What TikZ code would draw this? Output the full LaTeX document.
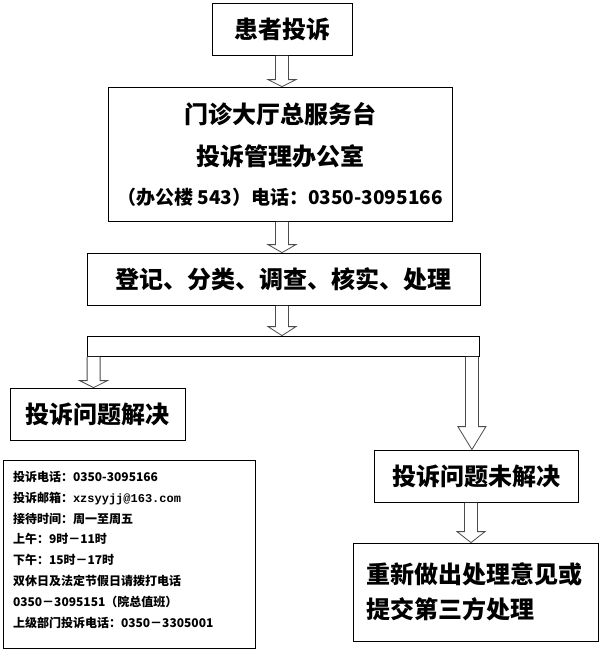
\documentclass[tikz,border=0pt]{standalone}
\usepackage{fontspec}
\setmainfont{Noto Sans CJK SC}
\setmonofont{Liberation Mono}
\usetikzlibrary{calc}

% 空心箭头: 起点, 终点, 箭头长度
\newcommand{\hollowarrow}[3]{%
    \draw[harrow] let \p1=(#1), \p2=(#2) in
        (\x1-6.5pt,\y1-0.5pt) -- (\x1-6.5pt,\y2+#3) -- (\x1-14pt,\y2+#3) -- (\x1,\y2)
        -- (\x1+14pt,\y2+#3) -- (\x1+6.5pt,\y2+#3) -- (\x1+6.5pt,\y1-0.5pt);
}

\begin{document}
\begin{tikzpicture}[x=1pt, y=-1pt]
        \tikzstyle{box}=[draw=black, line width=0.8pt, inner sep=0pt, font=\bfseries\fontsize{24}{42}\selectfont]
        \tikzstyle{bar}=[draw=black, line width=0.8pt, inner sep=0pt]
        \tikzstyle{note}=[draw=black, line width=0.8pt, inner sep=0pt, align=left, font=\bfseries\fontsize{12}{20.8}\selectfont]
        \tikzstyle{harrow}=[draw=black!70, fill=white, line width=0.8pt, line join=miter]
        
        \useasboundingbox (0,0) rectangle (601,651);
        
        % 画节点
        \node[box, minimum width=140pt, minimum height=52pt] (ts) at (282,29) {患者投诉};
        \node[box, minimum width=344pt, minimum height=134pt, align=center] (desk) at (280,154)
            {门诊大厅总服务台\\投诉管理办公室\\[-3pt]{\fontsize{19}{19}\selectfont （办公楼 543）电话：0350-3095166}};
        \node[box, minimum width=393pt, minimum height=52pt] (reg) at (283.5,279) {登记、分类、调查、核实、处理};
        \node[bar, minimum width=392pt, minimum height=20pt] (fork) at (283,346) {};
        \node[box, minimum width=175pt, minimum height=52pt] (ok) at (97.5,414) {投诉问题解决};
        \node[note, minimum width=252pt, text width=232pt, text height=21.5pt, text depth=166.5pt] (info) at (129,554)
            {投诉电话：0350-3095166\\
             投诉邮箱：{\ttfamily xzsyyjj@163.com}\\
             接待时间：周一至周五\\
             上午：9时－11时\\
             下午：15时－17时\\
             双休日及法定节假日请拨打电话\\
             0350－3095151（院总值班）\\
             上级部门投诉电话：0350－3305001};
        \node[box, minimum width=204pt, minimum height=52pt] (unres) at (476,476) {投诉问题未解决};
        \node[box, minimum width=245pt, minimum height=98pt, text width=219pt, align=left,
              font=\bfseries\fontsize{24}{35}\selectfont] (redo) at (475.5,592)
            {重新做出处理意见或\\提交第三方处理};
        
        % 画箭头
        \hollowarrow{ts.south}{desk.north}{7pt}
        \hollowarrow{desk.south -| ts.south}{reg.north}{8pt}
        \hollowarrow{reg.south -| ts.south}{fork.north}{9pt}
        \hollowarrow{$(fork.south west)+(7,0)$}{ok.north}{7pt}
        \hollowarrow{$(fork.south east)+(-7.5,0)$}{unres.north}{23pt}
        \hollowarrow{$(unres.south)+(-5,0)$}{redo.north}{11pt}
    \end{tikzpicture}
\end{document}
